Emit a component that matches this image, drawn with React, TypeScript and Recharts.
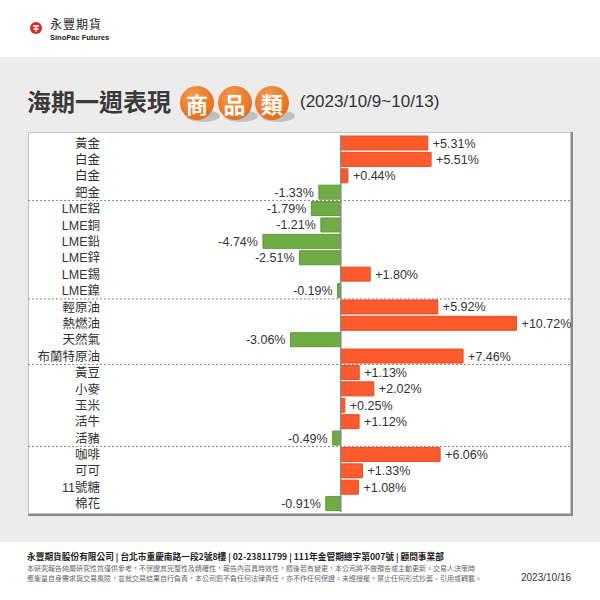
import { BarChart, Bar, XAxis, YAxis, Cell, LabelList, ReferenceLine } from 'recharts';

const categories = [
  '黃金', '白金', '白金', '鈀金',
  'LME鋁', 'LME銅', 'LME鉛', 'LME鋅', 'LME錫', 'LME鎳',
  '輕原油', '熱燃油', '天然氣', '布蘭特原油',
  '黃豆', '小麥', '玉米', '活牛', '活豬',
  '咖啡', '可可', '11號糖', '棉花',
];
const weeklyChange = [
  5.31, 5.51, 0.44, -1.33,
  -1.79, -1.21, -4.74, -2.51, 1.8, -0.19,
  5.92, 10.72, -3.06, 7.46,
  1.13, 2.02, 0.25, 1.12, -0.49,
  6.06, 1.33, 1.08, -0.91,
];
// last row index of each group (dashed separator below it)
const groupEnds = [3, 9, 13, 18];
const titleBadges = ['商', '品', '類'];

const data = categories.map((name, i) => ({ id: i, name, value: weeklyChange[i] }));

const FONT = "'Liberation Sans', 'Noto Sans CJK TC', sans-serif";
const CJK = "'Noto Sans CJK TC', 'Liberation Sans', sans-serif";
const UP = '#fb5b2d';
const DOWN = '#6fac46';

const fmt = (v: number) => (v > 0 ? '+' : '') + v.toFixed(2) + '%';

const ValueLabel = (props: any) => {
  const { x, y, width, height, value } = props;
  const left = Math.min(x, x + width);
  const right = Math.max(x, x + width);
  const cy = y + height / 2;
  const pos = value >= 0;
  return (
    <text x={pos ? right + 5 : left - 5} y={cy} dy={4.5} textAnchor={pos ? 'start' : 'end'}
      fontSize={12.5} fill="#333" fontFamily={FONT}>
      {fmt(value)}
    </text>
  );
};

const Separator = (props: any) => (
  <line x1={0} x2={543} y1={props.y1} y2={props.y2} stroke="#888" strokeDasharray="2 2" strokeWidth={1} />
);

function Logo() {
  return (
    <div style={{ position: 'absolute', left: 30, top: 20 }}>
      <svg width={12} height={12}>
        <circle cx={6} cy={6} r={6} fill="#e02a1f" />
        <path d="M3 4 H9 M6 4 V10 M3.5 7 H8.5" stroke="#fff" strokeWidth={1.4} fill="none" />
      </svg>
    </div>
  );
}

export default function App() {
  return (
    <div style={{ position: 'absolute', left: 0, top: 0, width: 600, height: 600, background: '#fff', overflow: 'hidden' }}>
      <Logo />
      <div style={{ position: 'absolute', left: 50, top: 17, fontFamily: CJK, fontSize: 12, lineHeight: '13px', color: '#222', letterSpacing: 1 }}>永豐期貨</div>
      <div style={{ position: 'absolute', left: 50, top: 34, fontFamily: FONT, fontSize: 7.5, lineHeight: '8px', fontWeight: 'bold', color: '#222' }}>SinoPac Futures</div>

      <div style={{ position: 'absolute', left: 0, top: 57, width: 600, height: 485, background: '#ececec' }} />

      <div style={{ position: 'absolute', left: 27, top: 84, fontFamily: CJK, fontSize: 24, fontWeight: 'bold', color: '#3a3a3a', lineHeight: '34px' }}>
        海期一週表現
      </div>
      {titleBadges.map((t, i) => (
        <div key={i} style={{ position: 'absolute', left: 180 + i * 37.5, top: 86, width: 34, height: 34 }}>
          <div style={{ position: 'absolute', left: 6, top: 24, width: 34, height: 12, borderRadius: '50%', background: 'rgba(0,0,0,0.18)' }} />
          <div style={{
            position: 'absolute', left: 0, top: 0, width: 34, height: 34, borderRadius: '50%',
            background: 'radial-gradient(circle at 40% 30%, #f59a4e, #e7711f 70%)',
            color: '#fff', fontFamily: CJK, fontWeight: 'bold', fontSize: 22, lineHeight: '34px', textAlign: 'center',
          }}>{t}</div>
        </div>
      ))}
      <div style={{ position: 'absolute', left: 300, top: 92, fontFamily: FONT, fontSize: 17, color: '#333' }}>(2023/10/9~10/13)</div>

      <div style={{ position: 'absolute', left: 28, top: 132, width: 541, height: 380, background: '#fff', border: '1px solid #c4c4c4', boxShadow: '1px 1px 0 1px #8a8a8a' }} />
      <div style={{ position: 'absolute', left: 28, top: 132 }}>
        <BarChart width={543} height={382} data={data} layout="vertical"
          margin={{ top: 3, right: 17, bottom: 2, left: 0 }} barSize={14}>
          <XAxis type="number" domain={[-14, 13]} hide />
          <YAxis type="category" dataKey="id" width={83} axisLine={false} tickLine={false}
            tickSize={0} tickMargin={11} interval={0}
            tickFormatter={(i: number) => categories[i]}
            tick={{ fontSize: 12.5, fill: '#333', fontFamily: FONT }} />
          {groupEnds.map((g) => (
            <ReferenceLine key={g} y={g} position="end" shape={Separator} ifOverflow="visible" />
          ))}
          <Bar dataKey="value" isAnimationActive={false} strokeWidth={1}>
            {data.map((d, i) => (
              <Cell key={i} fill={d.value >= 0 ? UP : DOWN} stroke={d.value >= 0 ? '#ee4a1c' : '#5c9a36'} />
            ))}
            <LabelList dataKey="value" content={ValueLabel} />
          </Bar>
          <ReferenceLine x={0} stroke="#8a8a8a" strokeWidth={1.5} />
        </BarChart>
      </div>

      <div style={{ position: 'absolute', left: 27, top: 550, fontFamily: CJK, fontSize: 8.7, fontWeight: 'bold', color: '#222', whiteSpace: 'nowrap' }}>
        永豐期貨股份有限公司 | 台北市重慶南路一段2號8樓 | 02-23811799 | 111年金管期總字第007號 | 顧問事業部
      </div>
      <div style={{ position: 'absolute', left: 27, top: 564, fontFamily: CJK, fontSize: 7, color: '#666', whiteSpace: 'nowrap', lineHeight: '9.5px' }}>
        本研究報告純屬研究性質僅供參考，不保證其完整性及精確性，報告內容具時效性，週後若有變更，本公司將不做預告或主動更新。交易人決策時<br />
        應衡量自身需求與交易風險，並就交易結果自行負責，本公司恕不負任何法律責任，亦不作任何保證。未經授權，禁止任何形式抄襲、引用或轉載。
      </div>
      <div style={{ position: 'absolute', left: 521, top: 572, fontFamily: FONT, fontSize: 10, color: '#333' }}>2023/10/16</div>
    </div>
  );
}
